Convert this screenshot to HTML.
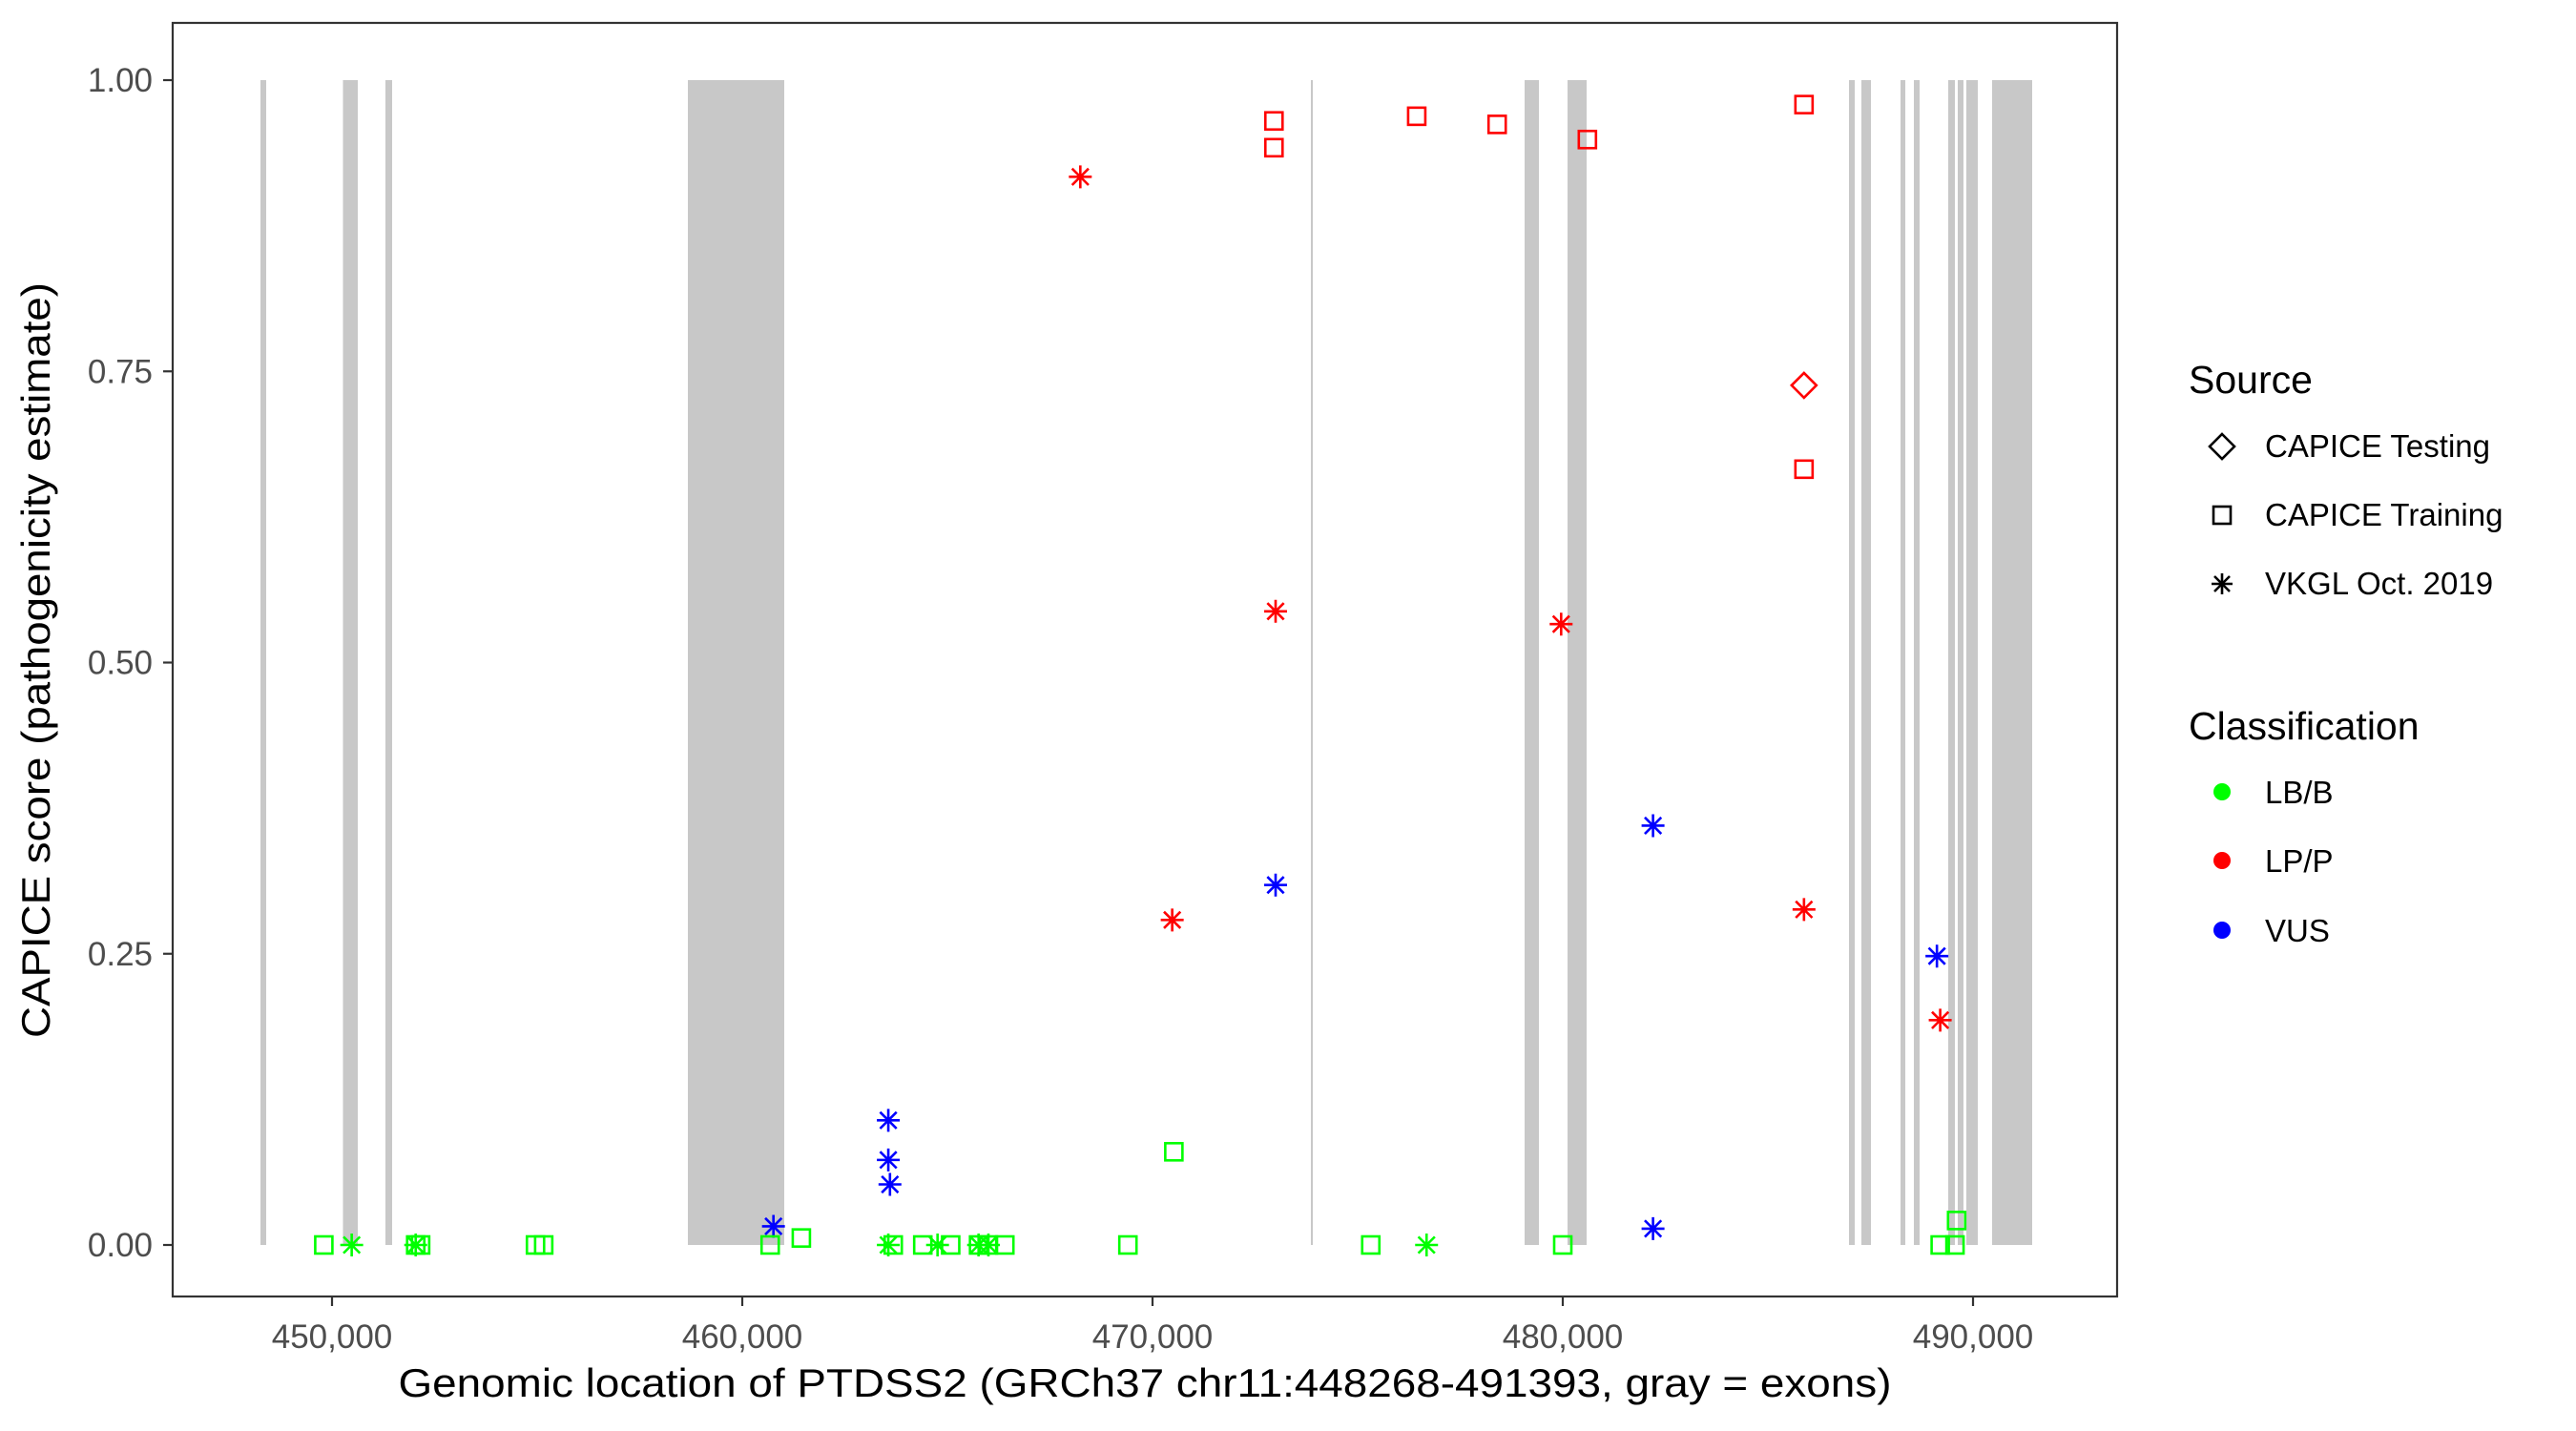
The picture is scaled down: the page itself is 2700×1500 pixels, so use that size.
<!DOCTYPE html>
<html><head><meta charset="utf-8"><style>
html,body{margin:0;padding:0;background:#fff;}
svg{display:block;font-family:"Liberation Sans",Arial,sans-serif;}
</style></head><body>
<svg id="chart" width="2700" height="1500" viewBox="0 0 2700 1500" xmlns="http://www.w3.org/2000/svg">
<rect x="0" y="0" width="2700" height="1500" fill="#fff"/>
<g id="exons"></g>
<g id="points"></g>
<rect x="181" y="24" width="2038" height="1335" fill="none" stroke="#333" stroke-width="2.2"/>
<g id="axes"></g>
<text x="1200" y="1464" text-anchor="middle" font-size="42" textLength="1565" lengthAdjust="spacingAndGlyphs" fill="#000">Genomic location of PTDSS2 (GRCh37 chr11:448268-491393, gray = exons)</text>
<text transform="translate(52,692) rotate(-90)" text-anchor="middle" font-size="42" textLength="792" lengthAdjust="spacingAndGlyphs" fill="#000">CAPICE score (pathogenicity estimate)</text>
<g>
 <text x="2294" y="412" font-size="41" fill="#000">Source</text>
 <path d="M2329,455 L2342,468 L2329,481 L2316,468 Z" fill="none" stroke="#000" stroke-width="2.6"/>
 <text x="2374" y="479" font-size="33" fill="#000">CAPICE Testing</text>
 <rect x="2320" y="531" width="18" height="18" fill="none" stroke="#000" stroke-width="2.6"/>
 <text x="2374" y="551" font-size="33" fill="#000">CAPICE Training</text>
 <g stroke="#000" stroke-width="2.6"><line x1="2318" y1="612" x2="2340" y2="612"/><line x1="2329" y1="601" x2="2329" y2="623"/><line x1="2321" y1="604" x2="2337" y2="620"/><line x1="2337" y1="604" x2="2321" y2="620"/></g>
 <text x="2374" y="623" font-size="33" fill="#000">VKGL Oct. 2019</text>
 <text x="2294" y="775" font-size="41" fill="#000">Classification</text>
 <circle cx="2329" cy="830" r="9" fill="#00ff00"/>
 <text x="2374" y="842" font-size="33" fill="#000">LB/B</text>
 <circle cx="2329" cy="902" r="9" fill="#ff0000"/>
 <text x="2374" y="914" font-size="33" fill="#000">LP/P</text>
 <circle cx="2329" cy="975" r="9" fill="#0000ff"/>
 <text x="2374" y="987" font-size="33" fill="#000">VUS</text>
</g>
</svg>
<script>
const exonStarts = [448256,450267,451302,458674,473860,479070,480116,486977,487279,488233,488558,489395,489628,489837,490465];
const exonEnds   = [448395,450628,451465,461023,473907,479419,480581,487116,487512,488349,488698,489558,489767,490116,491442];
const xTicks = [450000,460000,470000,480000,490000];
const xTickLabels = ["450,000","460,000","470,000","480,000","490,000"];
const yTicks = [0,0.25,0.5,0.75,1];
const yTickLabels = ["0.00","0.25","0.50","0.75","1.00"];
// points: position, score, class, source
const ptPos = [472960,472960,476440,478400,480600,485880,485880,485880,
  468240,473000,479960,470480,485880,489200,
  460760,463560,463560,463600,473000,482200,482200,489120,
  449800,452040,452160,454960,455160,460680,461440,463680,464400,465080,465760,466000,466400,469400,470520,475320,480000,489200,489560,489600,
  450480,452040,463560,464760,465760,466000,476680];
const ptScore = [0.965,0.942,0.969,0.962,0.949,0.979,0.666,0.738,
  0.917,0.544,0.533,0.279,0.288,0.193,
  0.016,0.107,0.073,0.052,0.309,0.36,0.014,0.248,
  0,0,0,0,0,0,0.006,0,0,0,0,0,0,0,0.08,0,0,0,0,0.021,
  0,0,0,0,0,0,0];
const ptClass = ["LP/P","LP/P","LP/P","LP/P","LP/P","LP/P","LP/P","LP/P",
  "LP/P","LP/P","LP/P","LP/P","LP/P","LP/P",
  "VUS","VUS","VUS","VUS","VUS","VUS","VUS","VUS",
  "LB/B","LB/B","LB/B","LB/B","LB/B","LB/B","LB/B","LB/B","LB/B","LB/B","LB/B","LB/B","LB/B","LB/B","LB/B","LB/B","LB/B","LB/B","LB/B","LB/B",
  "LB/B","LB/B","LB/B","LB/B","LB/B","LB/B","LB/B"];
const ptSource = ["Training","Training","Training","Training","Training","Training","Training","Testing",
  "VKGL","VKGL","VKGL","VKGL","VKGL","VKGL",
  "VKGL","VKGL","VKGL","VKGL","VKGL","VKGL","VKGL","VKGL",
  "Training","Training","Training","Training","Training","Training","Training","Training","Training","Training","Training","Training","Training","Training","Training","Training","Training","Training","Training","Training",
  "VKGL","VKGL","VKGL","VKGL","VKGL","VKGL","VKGL"];

const NS="http://www.w3.org/2000/svg";
function xS(v){return 348+(v-450000)*0.043;}
function yS(v){return 1305-1221*v;}
const colors={"LB/B":"#00ff00","LP/P":"#ff0000","VUS":"#0000ff"};
function mk(tag,attrs,parent){const e=document.createElementNS(NS,tag);for(const k in attrs)e.setAttribute(k,attrs[k]);parent.appendChild(e);return e;}

const gEx=document.getElementById('exons');
for(let i=0;i<exonStarts.length;i++){
  const x0=xS(exonStarts[i]),x1=xS(exonEnds[i]);
  const r=mk('rect',{x:x0,y:yS(1),width:Math.max(x1-x0,2),height:yS(0)-yS(1),fill:'#c8c8c8'},gEx);
  
  
}
const gAx=document.getElementById('axes');
xTicks.forEach((t,i)=>{
  const l=mk('line',{x1:xS(t),x2:xS(t),y1:1359,y2:1369,stroke:'#333','stroke-width':2.2},gAx);
  
  
  const tx=mk('text',{x:xS(t),y:1413,'text-anchor':'middle','font-size':35,fill:'#4d4d4d'},gAx);
  tx.textContent=xTickLabels[i];
  
  
});
yTicks.forEach((t,i)=>{
  const l=mk('line',{x1:171,x2:181,y1:yS(t),y2:yS(t),stroke:'#333','stroke-width':2.2},gAx);
  
  
  const tx=mk('text',{x:160,y:yS(t)+12,'text-anchor':'end','font-size':35,fill:'#4d4d4d'},gAx);
  tx.textContent=yTickLabels[i];
  
  
});
const gP=document.getElementById('points');
for(let i=0;i<ptPos.length;i++){
  const cx=xS(ptPos[i]),cy=yS(ptScore[i]),c=colors[ptClass[i]];
  let el;
  if(ptSource[i]==="Training"){
    el=mk('rect',{x:cx-9,y:cy-9,width:18,height:18,fill:'none',stroke:c,'stroke-width':2.6},gP);
  }else if(ptSource[i]==="Testing"){
    el=mk('path',{d:`M${cx},${cy-13} L${cx+13},${cy} L${cx},${cy+13} L${cx-13},${cy} Z`,fill:'none',stroke:c,'stroke-width':2.6},gP);
  }else{
    const r=12,d=r*0.72;
    el=mk('path',{d:`M${cx-r},${cy} H${cx+r} M${cx},${cy-r} V${cy+r} M${cx-d},${cy-d} L${cx+d},${cy+d} M${cx+d},${cy-d} L${cx-d},${cy+d}`,fill:'none',stroke:c,'stroke-width':2.6},gP);
  }
  
  
}
</script>
</body></html>
